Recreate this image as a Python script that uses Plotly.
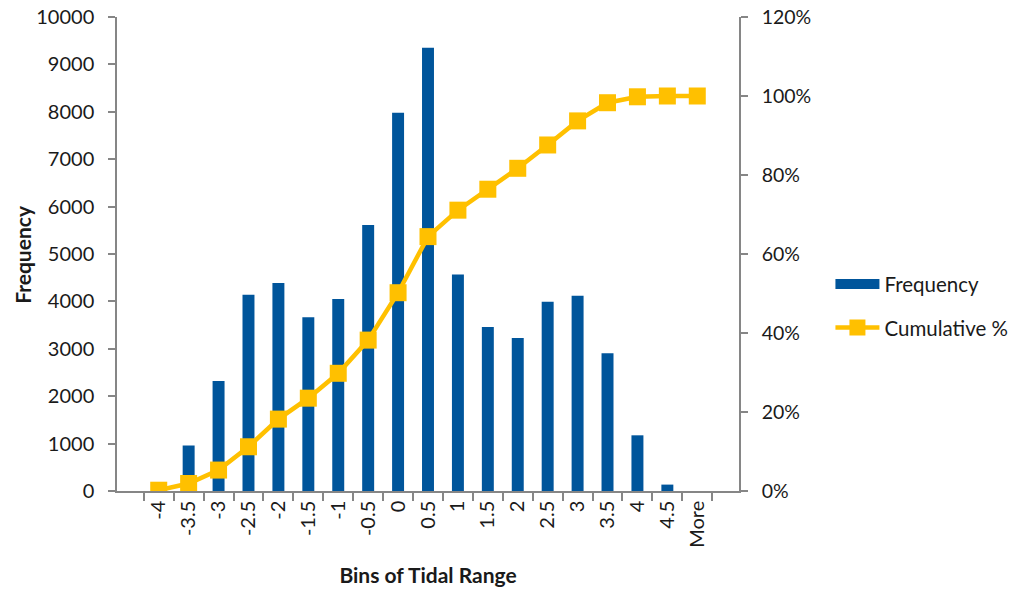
import plotly.graph_objects as go

bins = ["-4", "-3.5", "-3", "-2.5", "-2", "-1.5", "-1", "-0.5", "0", "0.5",
        "1", "1.5", "2", "2.5", "3", "3.5", "4", "4.5", "More"]
frequency = [0, 960, 2320, 4140, 4390, 3665, 4050, 5610, 7980, 9350,
             4570, 3460, 3230, 3990, 4120, 2905, 1175, 135, 0]
cumulative_pct = [0.002, 0.019, 0.053, 0.112, 0.182, 0.235, 0.298, 0.382, 0.502, 0.644,
                  0.711, 0.764, 0.817, 0.876, 0.937, 0.983, 0.998, 1.0, 1.0]

FONT = "Lato, 'Open Sans', sans-serif"
AXIS_GREY = "#868686"
TEXT = "#1a1a1a"
BLUE = "#00559B"
GOLD = "#FFC000"

fig = go.Figure()
fig.add_trace(go.Bar(
    x=bins, y=frequency, name="Frequency", legendgroup="f", showlegend=False,
    marker=dict(color=BLUE, line=dict(width=0)),
    yaxis="y",
))
# legend swatch for the bars (wide rectangle like the original)
fig.add_trace(go.Scatter(
    x=[None], y=[None], name="Frequency", legendgroup="f", mode="lines",
    line=dict(color=BLUE, width=14), hoverinfo="skip",
))
fig.add_trace(go.Scatter(
    x=bins, y=cumulative_pct, name="Cumulative %", mode="lines+markers",
    legendgroup="c",
    line=dict(color=GOLD, width=4.5),
    marker=dict(symbol="square", size=17, color=GOLD),
    yaxis="y2",
))

fig.update_layout(
    width=1026, height=590,
    margin=dict(l=117, r=276, t=17, b=99),
    paper_bgcolor="white", plot_bgcolor="white",
    font=dict(family=FONT, size=20, color=TEXT),
    bargap=0.6,
    showlegend=True,
    legend=dict(x=1.147, y=0.39, xanchor="left", yanchor="middle",
                font=dict(size=20.5), itemwidth=44, tracegroupgap=14,
                bgcolor="rgba(0,0,0,0)"),
    xaxis=dict(
        type="category", automargin=False,
        showline=True, linecolor=AXIS_GREY, linewidth=1.5,
        ticks="outside", ticklen=8, tickcolor=AXIS_GREY, tickwidth=1.5,
        tickson="boundaries",
        tickangle=-90,
        ticklabeloverflow="allow",
        showgrid=False,
        title=dict(text="<b>Bins of Tidal Range</b>", font=dict(size=21), standoff=22),
    ),
    yaxis=dict(
        range=[0, 10000], dtick=1000, automargin=False,
        showline=True, linecolor=AXIS_GREY, linewidth=1.5,
        ticks="outside", ticklen=7, tickcolor=AXIS_GREY, tickwidth=1.5,
        ticklabelstandoff=10, ticklabeloverflow="allow",
        showgrid=False, zeroline=False,
        tickformat="d",
    ),
    yaxis2=dict(
        range=[0, 1.2], dtick=0.2, tickformat=".0%", automargin=False,
        overlaying="y", side="right",
        showline=True, linecolor=AXIS_GREY, linewidth=1.5,
        ticks="outside", ticklen=7, tickcolor=AXIS_GREY, tickwidth=1.5,
        ticklabelstandoff=10, ticklabeloverflow="allow",
        tickfont=dict(size=19.5),
        showgrid=False, zeroline=False,
    ),
    annotations=[dict(
        text="<b>Frequency</b>", textangle=-90, showarrow=False,
        xref="paper", yref="paper", x=-0.153, y=0.5,
        xanchor="center", yanchor="middle", font=dict(size=21),
    )],
)

fig.write_html("out.html",
               config={"displayModeBar": False},
               post_script="document.body.style.margin='0';document.body.style.overflow='hidden';")
